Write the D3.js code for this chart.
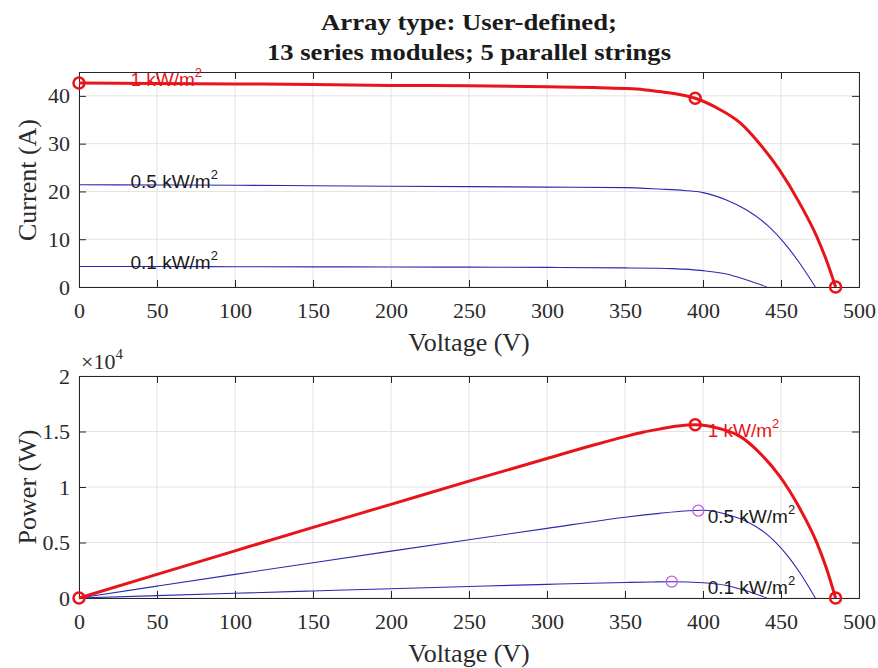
<!DOCTYPE html>
<html>
<head>
<meta charset="utf-8">
<script src="https://cdn.jsdelivr.net/npm/d3@7"></script>
<style>
  body { margin: 0; background: #fff; }
  svg { display: block; }
</style>
</head>
<body>
<script>
// I-V and P-V points
var v1000 = [0, 50, 100, 150, 200, 250, 300, 330, 350, 362, 372, 384, 395, 411, 424, 436, 449, 462, 473, 479, 485];
var i1000 = [42.7, 42.6, 42.5, 42.4, 42.2, 42.1, 41.9, 41.75, 41.55, 41.3, 40.9, 40.35, 39.5, 37.1, 34.3, 30.1, 24.5, 17.5, 10.5, 5.7, 0];
var p1000 = [0, 2130, 4250, 6360, 8440, 10525, 12570, 13780, 14540, 14950, 15215, 15495, 15600, 15250, 14540, 13120, 11000, 8085, 4970, 2730, 0];

var v500 = [0, 50, 100, 150, 200, 250, 300, 350, 372, 388, 400, 415, 428, 441, 454, 462, 472];
var i500 = [21.4, 21.35, 21.3, 21.2, 21.1, 21.0, 20.9, 20.8, 20.5, 20.2, 19.75, 18.2, 16.1, 13.0, 8.45, 4.96, 0];
var p500 = [0, 1068, 2130, 3180, 4220, 5250, 6270, 7280, 7626, 7838, 7900, 7553, 6890, 5733, 3836, 2292, 0];

var v100 = [0, 50, 100, 150, 200, 250, 300, 350, 368, 380, 400, 415, 428, 441];
var i100 = [4.3, 4.28, 4.25, 4.22, 4.2, 4.15, 4.1, 4.0, 3.93, 3.85, 3.42, 2.72, 1.47, 0];
var p100 = [0, 214, 425, 633, 840, 1038, 1230, 1400, 1446, 1463, 1368, 1129, 629, 0];

// red markers: short circuit, max power, open circuit
var markV = [0, 395, 485];
var markI = [42.7, 39.5, 0];
var markP = [0, 15600, 0];

// magenta max-power markers of the two lower curves
var mppV = [397, 380];
var mppP = [7870, 1470];

var curveNames = ['1 kW/m', '0.5 kW/m', '0.1 kW/m'];
var nameVTop = 33;
var nameVBottom = 403;

var xTicks = [0, 50, 100, 150, 200, 250, 300, 350, 400, 450, 500];
var iTicks = [0, 10, 20, 30, 40];
var pTicks = [0, 5000, 10000, 15000, 20000];
var pTickLabels = ['0', '0.5', '1', '1.5', '2'];

d3.select(window).on('load', init);

function init()
{
    var w = 878;
    var h = 668;
    var left = 79, right = 859;

    var svg = d3.select('body')
        .append('svg')
        .attr('width', w)
        .attr('height', h);

    var xScale = d3.scaleLinear().domain([0, 500]).range([left, right]);
    var iScale = d3.scaleLinear().domain([0, 45]).range([287, 72]);
    var pScale = d3.scaleLinear().domain([0, 20000]).range([598, 376]);

    var serif = 'Liberation Serif, Times New Roman, serif';
    var sans = 'Liberation Sans, Arial, sans-serif';
    var red = '#e8141a';
    var blue = '#2a2ab0';

    var series = [
        {v: v1000, i: i1000, p: p1000, color: red, width: 3},
        {v: v500, i: i500, p: p500, color: blue, width: 1.1},
        {v: v100, i: i100, p: p100, color: blue, width: 1.1}
    ];

    //Title (the original font is a little wider than Times)
    svg.append('text')
        .attr('x', (left + right) / 2).attr('y', 30)
        .attr('text-anchor', 'middle')
        .attr('textLength', 296).attr('lengthAdjust', 'spacingAndGlyphs')
        .style('font-family', serif).style('font-weight', 'bold').style('font-size', '23px')
        .attr('fill', '#1a1a1a')
        .text('Array type: User-defined;');
    svg.append('text')
        .attr('x', (left + right) / 2).attr('y', 60)
        .attr('text-anchor', 'middle')
        .attr('textLength', 404).attr('lengthAdjust', 'spacingAndGlyphs')
        .style('font-family', serif).style('font-weight', 'bold').style('font-size', '23px')
        .attr('fill', '#1a1a1a')
        .text('13 series modules; 5 parallel strings');

    function drawAxes(yScale, yTicks, yLabels, yTitle, titleY)
    {
        var g = svg.append('g');
        var y0 = yScale.range()[0], y1 = yScale.range()[1];

        // grid
        g.selectAll('.gx').data(xTicks).enter().append('line')
            .attr('x1', xScale).attr('x2', xScale)
            .attr('y1', y0).attr('y2', y1)
            .attr('stroke', '#e3e3e3').attr('stroke-width', 1);
        g.selectAll('.gy').data(yTicks).enter().append('line')
            .attr('x1', left).attr('x2', right)
            .attr('y1', yScale).attr('y2', yScale)
            .attr('stroke', '#e3e3e3').attr('stroke-width', 1);

        // axes with inward ticks on all sides
        var tk = 7;
        g.append('g').attr('transform', 'translate(0,' + y0 + ')')
            .call(d3.axisBottom(xScale).tickValues(xTicks).tickSize(-tk).tickPadding(15));
        g.append('g').attr('transform', 'translate(0,' + y1 + ')')
            .call(d3.axisTop(xScale).tickValues(xTicks).tickSize(-tk).tickFormat(''));
        g.append('g').attr('transform', 'translate(' + left + ',0)')
            .call(d3.axisLeft(yScale).tickValues(yTicks).tickSize(-tk).tickPadding(9)
                .tickFormat(function(d, k) { return yLabels[k]; }));
        g.append('g').attr('transform', 'translate(' + right + ',0)')
            .call(d3.axisRight(yScale).tickValues(yTicks).tickSize(-tk).tickFormat(''));

        g.selectAll('.domain').attr('stroke', '#262626');
        g.selectAll('.tick line').attr('stroke', '#262626');
        g.selectAll('.tick text')
            .style('font-family', serif).style('font-size', '22px').attr('fill', '#2b2b2b');

        // axis titles
        g.append('text')
            .attr('x', (left + right) / 2).attr('y', y0 + 64)
            .attr('text-anchor', 'middle')
            .style('font-family', serif).style('font-size', '26px').attr('fill', '#2b2b2b')
            .text('Voltage (V)');
        g.append('text')
            .attr('transform', 'translate(36,' + titleY + ') rotate(-90)')
            .attr('text-anchor', 'middle')
            .style('font-family', serif).style('font-size', '26px').attr('fill', '#2b2b2b')
            .text(yTitle);
        return g;
    }

    drawAxes(iScale, iTicks, iTicks.map(String), 'Current (A)', 180);
    drawAxes(pScale, pTicks, pTickLabels, 'Power (W)', 487);

    // exponent label of the power axis
    var ex = svg.append('text').attr('x', 81).attr('y', 369)
        .style('font-family', serif).style('font-size', '22px').attr('fill', '#2b2b2b');
    ex.append('tspan').text('\u00d710');
    ex.append('tspan').attr('dy', -10).style('font-size', '15px').text('4');

    //Create lines
    var ivLine = d3.line()
        .x(function(d) { return xScale(d[0]); })
        .y(function(d) { return iScale(d[1]); })
        .curve(d3.curveMonotoneX);
    var pvLine = d3.line()
        .x(function(d) { return xScale(d[0]); })
        .y(function(d) { return pScale(d[1]); })
        .curve(d3.curveMonotoneX);

    // draw the thin blue curves first, red last
    series.slice().reverse().forEach(function(s) {
        svg.append('path')
            .attr('d', ivLine(d3.zip(s.v, s.i)))
            .attr('fill', 'none').attr('stroke', s.color).attr('stroke-width', s.width);
        svg.append('path')
            .attr('d', pvLine(d3.zip(s.v, s.p)))
            .attr('fill', 'none').attr('stroke', s.color).attr('stroke-width', s.width);
    });

    //Create markers
    svg.selectAll('.mi').data(d3.zip(markV, markI)).enter().append('circle')
        .attr('cx', function(d) { return xScale(d[0]); })
        .attr('cy', function(d) { return iScale(d[1]); })
        .attr('r', 5.5).attr('fill', 'none').attr('stroke', red).attr('stroke-width', 2.5);
    svg.selectAll('.mp').data(d3.zip(markV, markP)).enter().append('circle')
        .attr('cx', function(d) { return xScale(d[0]); })
        .attr('cy', function(d) { return pScale(d[1]); })
        .attr('r', 5.5).attr('fill', 'none').attr('stroke', red).attr('stroke-width', 2.5);
    svg.selectAll('.mm').data(d3.zip(mppV, mppP)).enter().append('circle')
        .attr('cx', function(d) { return xScale(d[0]); })
        .attr('cy', function(d) { return pScale(d[1]); })
        .attr('r', 5.5).attr('fill', 'none').attr('stroke', '#c45ce6').attr('stroke-width', 1.3);

    //Curve names
    var topIsc = [i1000[0], i500[0], i100[0]];
    var peakP = [markP[1], mppP[0], mppP[1]];
    function addName(x, y, k)
    {
        var t = svg.append('text')
            .attr('x', x).attr('y', y)
            .style('font-family', sans).style('font-size', '19px')
            .attr('fill', k === 0 ? red : '#1a1a1a');
        t.append('tspan').text(curveNames[k]);
        t.append('tspan').attr('dy', -9).style('font-size', '13px').text('2');
    }
    curveNames.forEach(function(n, k) {
        addName(xScale(nameVTop), iScale(topIsc[k]) + 3, k);
        addName(xScale(nameVBottom), pScale(peakP[k]) + 12, k);
    });
}
</script>
</body>
</html>
